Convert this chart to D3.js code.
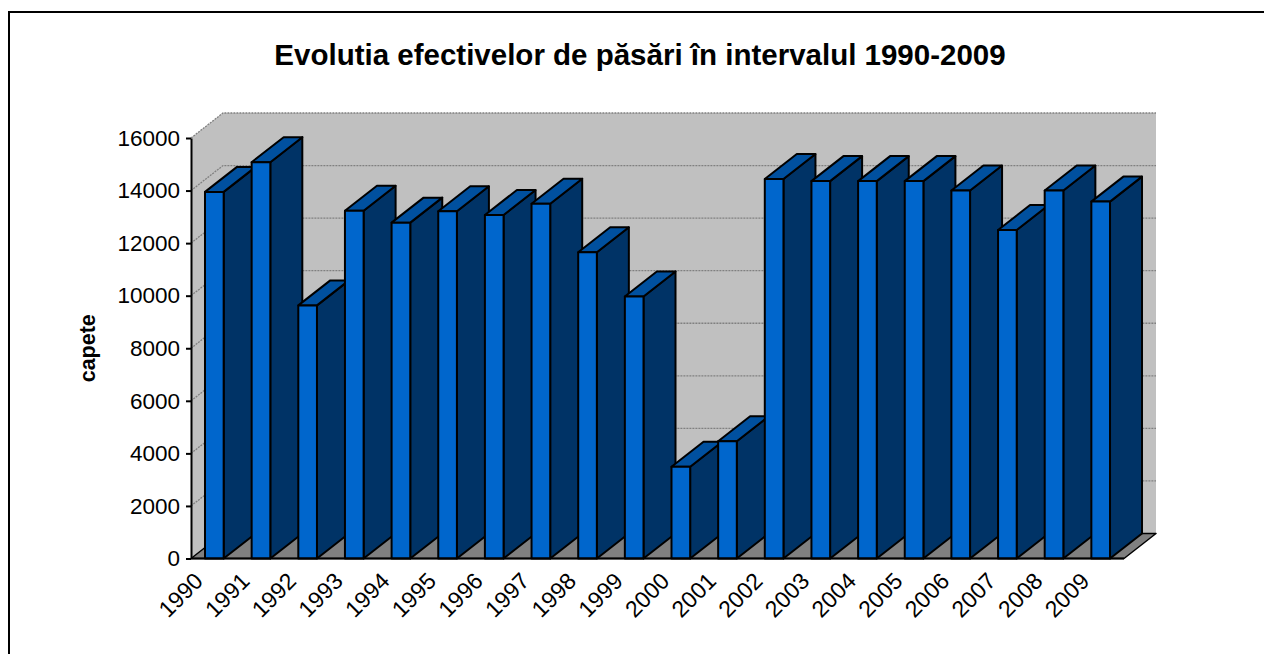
<!DOCTYPE html>
<html>
<head>
<meta charset="utf-8">
<script src="https://cdn.jsdelivr.net/npm/d3@7"></script>
<style>
  body { margin: 0; background: #fff; }
  svg { display: block; font-family: "Liberation Sans", Arial, sans-serif; }
</style>
</head>
<body>
<div id="chart-area"></div>
<script>
// data
const years = ["1990","1991","1992","1993","1994","1995","1996","1997","1998","1999",
               "2000","2001","2002","2003","2004","2005","2006","2007","2008","2009"]
const heads = [13950, 15080, 9630, 13230, 12780, 13210, 13070, 13500, 11650, 9970,
               3490, 4460, 14440, 14360, 14360, 14360, 14000, 12500, 14000, 13580]
const yTicks = [0, 2000, 4000, 6000, 8000, 10000, 12000, 14000, 16000]

const W = 1264, H = 654
// front plane of the plot and the 3d depth offset
const X0 = 191, X1 = 1124
const Y0 = 558.5, YTOP = 138
const DX = 32, DY = -25

const svg = d3.select("#chart-area").append("svg")
  .attr("width", W)
  .attr("height", H)

// outer frame (cut by the window at right and bottom)
svg.append("rect")
  .attr("x", 9).attr("y", 12)
  .attr("width", 1270).attr("height", 660)
  .attr("fill", "none")
  .attr("stroke", "#000")
  .attr("stroke-width", 2)

// title
svg.append("text")
  .attr("x", 640)
  .attr("y", 65)
  .attr("text-anchor", "middle")
  .attr("font-size", "29.5px")
  .attr("font-weight", "bold")
  .text("Evolutia efectivelor de păsări în intervalul 1990-2009")

const x = d3.scaleBand()
  .domain(years)
  .range([X0, X1])
  .paddingInner(0.6)
  .paddingOuter(0.3)

const y = d3.scaleLinear()
  .domain([0, 16000])
  .range([Y0, YTOP])

const yMax = y(16000)

// left wall
svg.append("polygon")
  .attr("points", [[X0, Y0], [X0, yMax], [X0 + DX, yMax + DY], [X0 + DX, Y0 + DY]].join(" "))
  .attr("fill", "#c0c0c0")

// back wall
svg.append("rect")
  .attr("x", X0 + DX)
  .attr("y", yMax + DY)
  .attr("width", X1 - X0)
  .attr("height", Y0 - yMax)
  .attr("fill", "#c0c0c0")

// gridlines on the walls
const grid = svg.append("g")
  .attr("stroke", "#808080")
  .attr("stroke-width", 1.3)
  .attr("stroke-dasharray", "2,1")
  .attr("fill", "none")

yTicks.filter(v => v > 0).forEach(v => {
  grid.append("polyline")
    .attr("points", [[X0, y(v)], [X0 + DX, y(v) + DY], [X1 + DX, y(v) + DY]].join(" "))
})

// floor
svg.append("polygon")
  .attr("points", [[X0, Y0], [X1, Y0], [X1 + DX, Y0 + DY], [X0 + DX, Y0 + DY]].join(" "))
  .attr("fill", "#808080")
  .attr("stroke", "#000")
  .attr("stroke-width", 1.5)
  .attr("stroke-linejoin", "round")

// bars, left to right so the next front face hides the previous side
const bw = x.bandwidth()
const bars = svg.append("g")
  .attr("stroke", "#000")
  .attr("stroke-width", 2)
  .attr("stroke-linejoin", "round")

years.forEach((yr, i) => {
  const bx = x(yr)
  const top = y(heads[i])
  const g = bars.append("g")
  g.append("polygon")
    .attr("points", [[bx + bw, Y0], [bx + bw, top], [bx + bw + DX, top + DY], [bx + bw + DX, Y0 + DY]].join(" "))
    .attr("fill", "#003366")
  g.append("polygon")
    .attr("points", [[bx, top], [bx + bw, top], [bx + bw + DX, top + DY], [bx + DX, top + DY]].join(" "))
    .attr("fill", "#00509f")
  g.append("rect")
    .attr("x", bx)
    .attr("y", top)
    .attr("width", bw)
    .attr("height", Y0 - top)
    .attr("fill", "#0066cc")
})

// y axis
const yAxis = svg.append("g")
  .attr("transform", `translate(${X0},0)`)
  .call(d3.axisLeft(y).tickValues(yTicks).tickSize(5).tickSizeOuter(0).tickPadding(6).tickFormat(d3.format("d")))
yAxis.select(".domain").attr("stroke-width", 2)
yAxis.selectAll(".tick line").attr("stroke-width", 2)
yAxis.selectAll("text")
  .attr("font-size", "22.5px")
  .attr("font-family", "Liberation Sans, Arial, sans-serif")
  .attr("fill", "#000")

// front baseline
svg.append("line")
  .attr("x1", X0).attr("x2", X1)
  .attr("y1", Y0).attr("y2", Y0)
  .attr("stroke", "#000")
  .attr("stroke-width", 2)

// x labels, rotated
svg.append("g")
  .selectAll("text")
  .data(years)
  .join("text")
  .attr("transform", d => `translate(${x(d) + bw / 2 - 10},${Y0 + 24}) rotate(-45)`)
  .attr("text-anchor", "end")
  .attr("font-size", "23px")
  .text(d => d)

// y label
svg.append("text")
  .attr("transform", `translate(95,${(Y0 + yMax) / 2}) rotate(-90)`)
  .attr("text-anchor", "middle")
  .attr("font-size", "21.5px")
  .attr("font-weight", "bold")
  .text("capete")
</script>
</body>
</html>
